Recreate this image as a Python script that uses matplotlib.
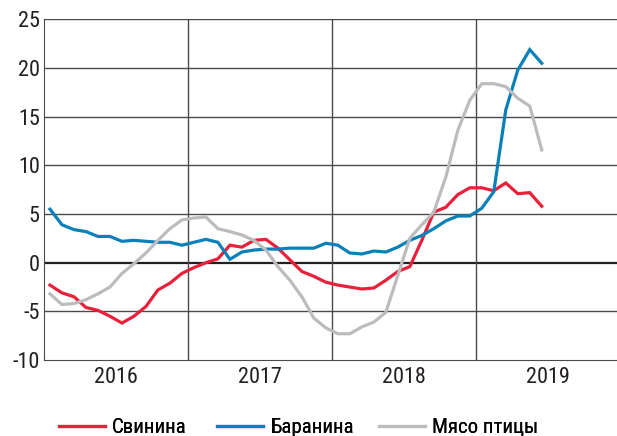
import matplotlib.pyplot as plt
import numpy as np

# monthly y/y change, Jan 2016 - Jun 2019
pork = [-2.3, -3.1, -3.5, -4.6, -4.9, -5.5, -6.2, -5.5, -4.5, -2.8, -2.1, -1.1,
        -0.5, 0.0, 0.4, 1.8, 1.6, 2.3, 2.4, 1.5, 0.3, -0.9, -1.4, -2.0,
        -2.3, -2.5, -2.7, -2.6, -1.8, -0.9, -0.4, 2.3, 5.2, 5.7, 7.0, 7.7,
        7.7, 7.4, 8.2, 7.1, 7.2, 5.8]
mutton = [5.5, 3.9, 3.4, 3.2, 2.7, 2.7, 2.2, 2.3, 2.2, 2.1, 2.1, 1.8,
          2.1, 2.4, 2.1, 0.35, 1.1, 1.3, 1.4, 1.4, 1.5, 1.5, 1.5, 2.0,
          1.8, 1.0, 0.9, 1.2, 1.1, 1.6, 2.3, 2.8, 3.5, 4.3, 4.8, 4.8,
          5.6, 7.3, 15.7, 19.8, 21.9, 20.5]
poultry = [-3.2, -4.3, -4.2, -3.8, -3.2, -2.5, -1.1, -0.1, 1.0, 2.3, 3.5, 4.4,
           4.6, 4.7, 3.5, 3.2, 2.85, 2.3, 1.3, -0.4, -1.8, -3.5, -5.7, -6.7,
           -7.3, -7.3, -6.6, -6.1, -5.1, -1.3, 2.5, 3.9, 5.2, 8.8, 13.6, 16.7,
           18.4, 18.4, 18.1, 16.9, 16.1, 11.6]
years = ['2016', '2017', '2018', '2019']
labels = ['Свинина', 'Баранина', 'Мясо птицы']
colors = ['#e8203a', '#0a80b9', '#bcbcbe']

plt.rcParams['font.family'] = ['Liberation Sans Narrow', 'Roboto Condensed',
                               'Liberation Sans', 'DejaVu Sans']
plt.rcParams['axes.unicode_minus'] = False

fig = plt.figure(figsize=(6.17, 4.36), dpi=100)
ax = fig.add_axes([0.0713, 0.1743, 0.9331, 0.781])

x = np.arange(len(pork)) + 0.5
lines = []
for series, lab, col in zip([pork, mutton, poultry], labels, colors):
    ln, = ax.plot(x, series, color=col, lw=2.3, label=lab, solid_joinstyle='miter')
    lines.append(ln)

ax.set_xlim(0, 48)
ax.set_ylim(-10, 25)
ax.set_yticks(range(-10, 26, 5))
ax.set_xticks([6, 18, 30, 42])
ax.set_xticklabels(years)
ax.tick_params(length=0, labelsize=16, pad=3, colors='#231f20')
ax.tick_params(axis='x', pad=5)

for y in range(-5, 26, 5):
    if y == 0:
        ax.axhline(0, color='#231f20', lw=1.6, zorder=1)
    else:
        ax.axhline(y, color='#4a4a4a', lw=1.0, zorder=1)
for xv in [12, 24, 36]:
    ax.axvline(xv, color='#4a4a4a', lw=1.0, zorder=1)

for s in ['top', 'right']:
    ax.spines[s].set_visible(False)
ax.spines['left'].set_color('#4a4a4a')
ax.spines['bottom'].set_color('#4a4a4a')

# one legend entry per slot, spaced like the original
for ln, xpos in zip(lines, [0.0956, 0.352, 0.614]):
    leg = fig.legend(handles=[ln], loc='center left', bbox_to_anchor=(xpos, 0.019),
                     frameon=False, fontsize=15, handlelength=2.2, handletextpad=0.35,
                     borderaxespad=0, borderpad=0)
    fig.add_artist(leg)

fig.savefig('out.png', dpi=100)
